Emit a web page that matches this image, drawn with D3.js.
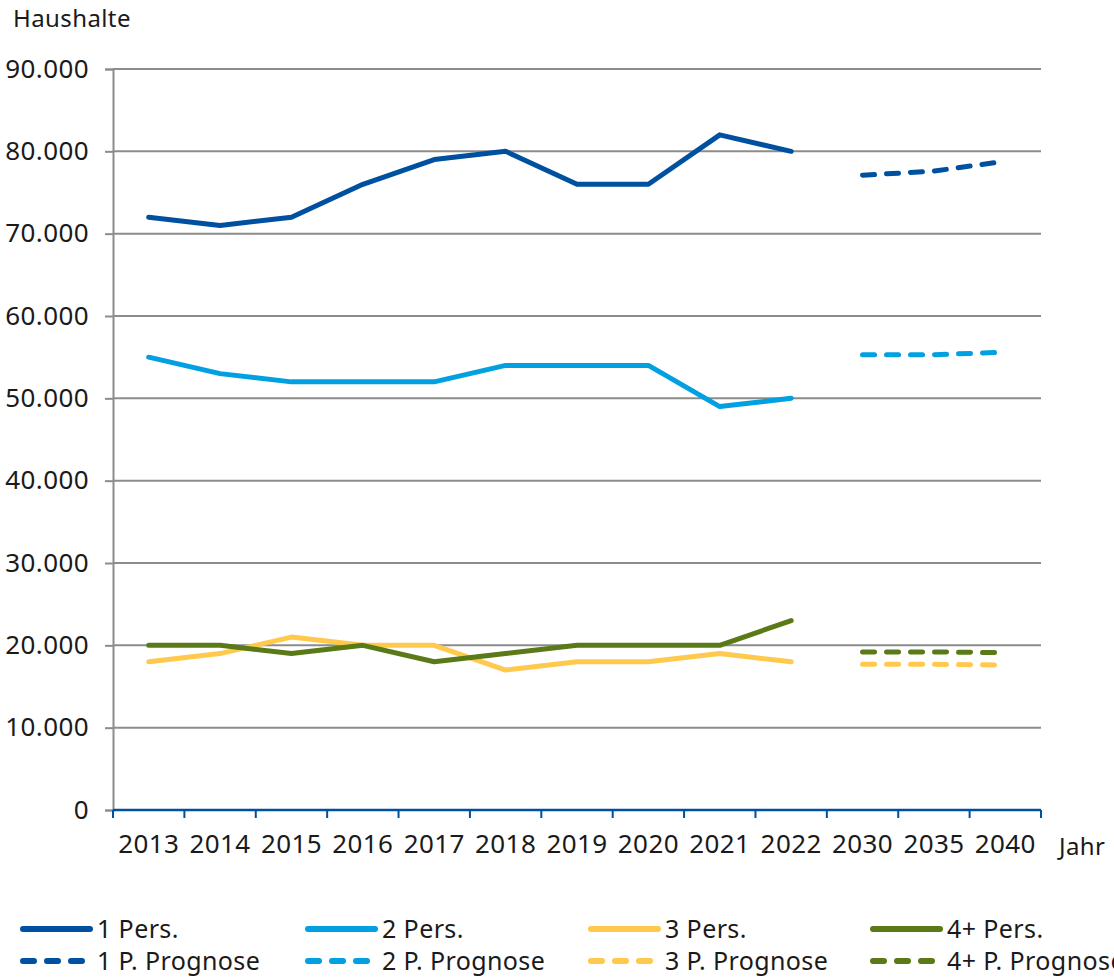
<!DOCTYPE html>
<html>
<head>
<meta charset="utf-8">
<script src="https://cdn.jsdelivr.net/npm/d3@7"></script>
<style>
  body { margin: 0; background: #fff; }
  text { font-family: "Noto Sans", sans-serif; fill: #1a1a1a; letter-spacing: 0.4px; }
</style>
</head>
<body>
<div id="chart"></div>
<script>
// data
var years = ['2013','2014','2015','2016','2017','2018','2019','2020','2021','2022','2030','2035','2040'];
var histYears = years.slice(0, 10);
var progYears = ['2030','2035','2040'];

var pers1 = [72000, 71000, 72000, 76000, 79000, 80000, 76000, 76000, 82000, 80000];
var pers2 = [55000, 53000, 52000, 52000, 52000, 54000, 54000, 54000, 49000, 50000];
var pers3 = [18000, 19000, 21000, 20000, 20000, 17000, 18000, 18000, 19000, 18000];
var pers4 = [20000, 20000, 19000, 20000, 18000, 19000, 20000, 20000, 20000, 23000];

var prog1 = [77100, 77600, 78800];
var prog2 = [55300, 55300, 55600];
var prog3 = [17700, 17700, 17600];
var prog4 = [19200, 19200, 19100];

var yTicks = [0, 10000, 20000, 30000, 40000, 50000, 60000, 70000, 80000, 90000];

var colors = { p1: '#0050a0', p2: '#00a0e1', p3: '#ffc94d', p4: '#5a7a18' };

var series = [
	{ name: '1 Pers.', x: histYears, y: pers1, color: colors.p1, dashed: false },
	{ name: '2 Pers.', x: histYears, y: pers2, color: colors.p2, dashed: false },
	{ name: '3 Pers.', x: histYears, y: pers3, color: colors.p3, dashed: false },
	{ name: '4+ Pers.', x: histYears, y: pers4, color: colors.p4, dashed: false },
	{ name: '1 P. Prognose', x: progYears, y: prog1, color: colors.p1, dashed: true },
	{ name: '2 P. Prognose', x: progYears, y: prog2, color: colors.p2, dashed: true },
	{ name: '3 P. Prognose', x: progYears, y: prog3, color: colors.p3, dashed: true },
	{ name: '4+ P. Prognose', x: progYears, y: prog4, color: colors.p4, dashed: true }
];

var width = 1114, height = 978;
var plot = { left: 113, right: 1041, top: 69, bottom: 810 };

var svg = d3.select('#chart').append('svg')
	.attr('width', width)
	.attr('height', height);

var x = d3.scaleBand()
	.domain(years)
	.range([plot.left, plot.right])
	.padding(0);

var y = d3.scaleLinear()
	.domain([0, 90000])
	.range([plot.bottom, plot.top]);

var fmt = function(d){ return d3.format(',')(d).replace(/,/g, '.'); };

// gridlines + y axis
var yAxis = svg.append('g')
	.attr('transform', 'translate(' + plot.left + ',0)')
	.call(d3.axisLeft(y).tickValues(yTicks).tickSize(8).tickFormat(fmt));
yAxis.select('.domain').attr('stroke', '#8c8c8c').attr('stroke-width', 2);
yAxis.selectAll('.tick line').attr('stroke', '#8c8c8c').attr('stroke-width', 2);
yAxis.selectAll('.tick text')
	.attr('x', -24)
	.style('font-size', '26px')
	.attr('fill', '#1a1a1a');

svg.append('g').selectAll('line')
	.data(yTicks.filter(function(d){ return d > 0; }))
	.enter().append('line')
		.attr('x1', plot.left)
		.attr('x2', plot.right)
		.attr('y1', function(d){ return y(d); })
		.attr('y2', function(d){ return y(d); })
		.attr('stroke', '#8c8c8c')
		.attr('stroke-width', 2);

// x axis (blue)
var xAxis = svg.append('g')
	.attr('transform', 'translate(0,' + plot.bottom + ')')
	.call(d3.axisBottom(x).tickSize(0).tickPadding(25));
xAxis.select('.domain').remove();
xAxis.selectAll('.tick text').style('font-size', '26px').attr('fill', '#1a1a1a');

var bounds = years.map(function(d){ return x(d); }).concat([plot.right]);
svg.append('g').selectAll('line')
	.data(bounds)
	.enter().append('line')
		.attr('x1', function(d){ return d; })
		.attr('x2', function(d){ return d; })
		.attr('y1', plot.bottom)
		.attr('y2', plot.bottom + 8)
		.attr('stroke', '#0050a0')
		.attr('stroke-width', 2);
svg.append('line')
	.attr('x1', plot.left)
	.attr('x2', plot.right)
	.attr('y1', plot.bottom)
	.attr('y2', plot.bottom)
	.attr('stroke', '#0050a0')
	.attr('stroke-width', 2.5);

// axis titles
svg.append('text').attr('x', 13).attr('y', 27).style('font-size', '24px').text('Haushalte');
svg.append('text').attr('x', 1059).attr('y', 855).style('font-size', '24px').text('Jahr');

// lines
var line = d3.line()
	.x(function(d){ return x(d[0]) + x.bandwidth() / 2; })
	.y(function(d){ return y(d[1]); });

// draw order: 2, 1, 3, 4 (green on top of yellow)
[1, 0, 2, 3, 4, 5, 6, 7].forEach(function(i){
	var s = series[i];
	svg.append('path')
		.datum(d3.zip(s.x, s.y))
		.attr('d', line)
		.attr('fill', 'none')
		.attr('stroke', s.color)
		.attr('stroke-width', 5)
		.attr('stroke-linecap', 'round')
		.attr('stroke-linejoin', 'round')
		.attr('stroke-dasharray', s.dashed ? '12,12' : null);
});

// legend
var legendX = [20, 305, 588, 870];
var legendY = [929, 961];
series.forEach(function(s, i){
	var col = i % 4, row = s.dashed ? 1 : 0;
	var g = svg.append('g').attr('transform', 'translate(' + legendX[col] + ',' + legendY[row] + ')');
	g.append('line')
		.attr('x1', 3)
		.attr('x2', s.dashed ? 64 : 70)
		.attr('y1', 0).attr('y2', 0)
		.attr('stroke', s.color)
		.attr('stroke-width', 6)
		.attr('stroke-linecap', 'round')
		.attr('stroke-dasharray', s.dashed ? '11,13' : null);
	g.append('text')
		.attr('x', 77)
		.attr('y', 9)
		.style('font-size', '25px')
		.text(s.name);
});
</script>
</body>
</html>
